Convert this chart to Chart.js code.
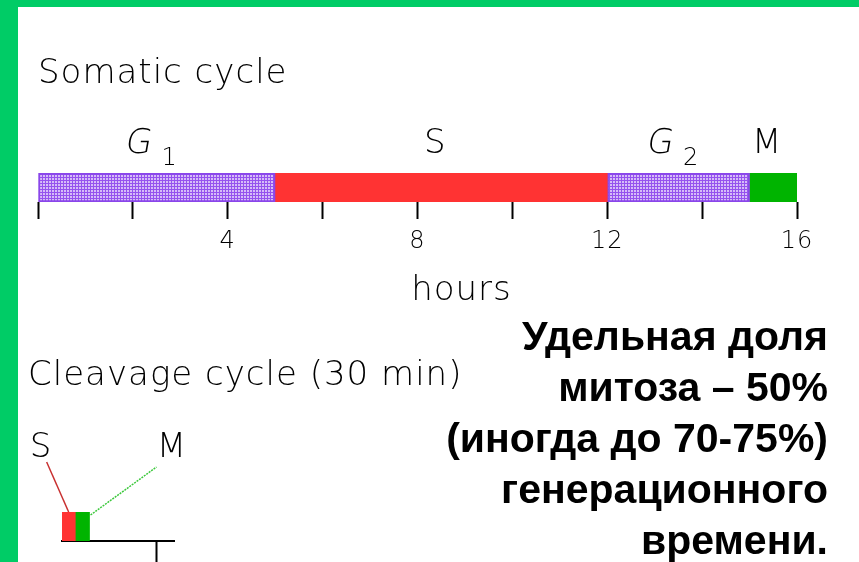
<!DOCTYPE html>
<html>
<head>
<meta charset="utf-8">
<script src="https://cdn.jsdelivr.net/npm/chart.js@4.4.1/dist/chart.umd.min.js"></script>
<style>
  html, body { margin: 0; padding: 0; background: #fff; }
  #page { position: relative; width: 859px; height: 562px; overflow: hidden; background: #fff; }
  #frameTop { position: absolute; left: 0; top: 0; width: 859px; height: 7px; background: #00cc66; }
  #frameLeft { position: absolute; left: 0; top: 0; width: 18px; height: 562px; background: #00cc66; }
  #somatic { position: absolute; left: 0; top: 0; }
  #cleavage { position: absolute; left: 0; top: 330px; }
  #cleavageTitle {
    position: absolute; left: 28px; top: 353px; white-space: nowrap;
    font: 200 34px "DejaVu Sans"; line-height: 40px; letter-spacing: 1px; color: #000;
  }
  #note {
    position: absolute; right: 31px; top: 311px; text-align: right; white-space: nowrap;
    font: bold 41px "Liberation Sans"; line-height: 51px; color: #000;
  }
</style>
</head>
<body>
<div id="page">
  <div id="frameTop"></div>
  <div id="frameLeft"></div>
  <canvas id="somatic" width="859" height="310"></canvas>
  <canvas id="cleavage" width="320" height="232"></canvas>
  <div id="cleavageTitle">Cleavage cycle (30 min)</div>
  <div id="note">Удельная доля<br>митоза – 50%<br>(иногда до 70-75%)<br>генерационного<br>времени.</div>
</div>
<script>
// ============================================================================
// Data
// ============================================================================

const SOMATIC_PHASES = ['G1', 'S', 'G2', 'M'];
const SOMATIC_HOURS = [5, 7, 3, 1];
const PHASE_MAIN = ['G', 'S', 'G', 'M'];
const PHASE_SUB = ['1', '', '2', ''];
const HOUR_LABELS = [4, 8, 12, 16];

const CLEAVAGE_PHASES = ['S', 'M'];
const CLEAVAGE_HOURS = [0.28, 0.3];
const CLEAVAGE_TICKS = [2];

// ============================================================================
// Styles
// ============================================================================

const FONT = '"DejaVu Sans"';
const INK = '#000';
const RED = '#ff3333';
const GREEN = '#00b400';
const PURPLE_EDGE = '#8a46ea';

/**
 * Lavender lattice used for the G1 / G2 segments
 */
function makeHatch() {
  const c = document.createElement('canvas');
  c.width = 3;
  c.height = 3;
  const g = c.getContext('2d');
  g.fillStyle = '#d6bcf8';
  g.fillRect(0, 0, 3, 3);
  g.fillStyle = '#9552ee';
  g.fillRect(0, 0, 3, 1);
  g.fillRect(0, 0, 1, 3);
  return g.createPattern(c, 'repeat');
}

const HATCH = makeHatch();
const PHASE_COLORS = [HATCH, RED, HATCH, GREEN];
const PHASE_BORDERS = [PURPLE_EDGE, RED, PURPLE_EDGE, GREEN];
const PHASE_BORDER_W = [2, 0, 2, 0];

// ============================================================================
// Plugins
// ============================================================================

// the old bitmap font is wide, so space the letters a little
const spacingPlugin = {
  id: 'spacing',
  beforeUpdate(chart) { chart.ctx.letterSpacing = '1px'; },
  beforeDraw(chart) { chart.ctx.letterSpacing = '1px'; }
};

/**
 * G1 / S / G2 / M labels above each segment
 */
const phaseLabels = {
  id: 'phaseLabels',
  afterDatasetsDraw(chart) {
    const ctx = chart.ctx;
    ctx.save();
    ctx.fillStyle = INK;
    ctx.textAlign = 'left';
    ctx.textBaseline = 'alphabetic';
    chart.data.datasets.forEach((ds, i) => {
      const bar = chart.getDatasetMeta(i).data[0];
      const cx = (bar.x + bar.base) / 2 - 6;
      const top = bar.y - bar.height / 2;
      const main = PHASE_MAIN[i];
      const sub = PHASE_SUB[i];
      const mainFont = '200 34px ' + FONT;
      const subFont = '200 24px ' + FONT;
      ctx.font = mainFont;
      const wMain = ctx.measureText(main).width;
      ctx.font = subFont;
      const wSub = sub ? ctx.measureText(sub).width + 10 : 0;
      const x = cx - (wMain + wSub) / 2;

      // G is slanted in the original
      ctx.save();
      ctx.font = mainFont;
      ctx.translate(x, top - 20);
      if (main === 'G') ctx.transform(1, 0, -0.18, 1, 0, 0);
      ctx.fillText(main, 0, 0);
      ctx.restore();

      if (sub) {
        ctx.font = subFont;
        ctx.fillText(sub, x + wMain + 10, top - 8);
      }
    });
    ctx.restore();
  }
};

/**
 * "hours" caption, set a little right of the axis centre as in the original
 */
const axisCaption = {
  id: 'axisCaption',
  afterDraw(chart) {
    const ctx = chart.ctx;
    const area = chart.chartArea;
    ctx.save();
    ctx.fillStyle = INK;
    ctx.font = '200 34px ' + FONT;
    ctx.textAlign = 'center';
    ctx.textBaseline = 'alphabetic';
    ctx.fillText('hours', (area.left + area.right) / 2 + 44, 300);
    ctx.restore();
  }
};

/**
 * Leader lines from the cleavage bar to its S / M labels
 */
const leaderPlugin = {
  id: 'leaders',
  afterDatasetsDraw(chart) {
    const ctx = chart.ctx;
    const red = chart.getDatasetMeta(0).data[0];
    const green = chart.getDatasetMeta(1).data[0];
    const top = red.y - red.height / 2;
    const redX = (red.x + red.base) / 2;

    ctx.save();
    ctx.lineWidth = 1.5;
    ctx.strokeStyle = '#c83030';
    ctx.beginPath();
    ctx.moveTo(redX, top);
    ctx.lineTo(redX - 22, top - 50);
    ctx.stroke();

    ctx.strokeStyle = '#3cc83c';
    ctx.setLineDash([2, 1]);
    ctx.beginPath();
    ctx.moveTo(green.x + 1, top + 3);
    ctx.lineTo(green.x + 67, top - 45);
    ctx.stroke();
    ctx.setLineDash([]);

    ctx.fillStyle = INK;
    ctx.font = '200 34px ' + FONT;
    ctx.textAlign = 'center';
    ctx.textBaseline = 'alphabetic';
    ctx.fillText(CLEAVAGE_PHASES[0], redX - 28, top - 55);
    ctx.fillText(CLEAVAGE_PHASES[1], green.x + 82, top - 55);
    ctx.restore();
  }
};

// ============================================================================
// Charts
// ============================================================================

new Chart(document.getElementById('somatic'), {
  type: 'bar',
  data: {
    labels: ['Somatic cycle'],
    datasets: SOMATIC_PHASES.map((name, i) => ({
      label: name,
      data: [SOMATIC_HOURS[i]],
      backgroundColor: PHASE_COLORS[i],
      borderColor: PHASE_BORDERS[i],
      borderWidth: PHASE_BORDER_W[i],
      borderSkipped: false,
      barPercentage: 1,
      categoryPercentage: 1
    }))
  },
  options: {
    indexAxis: 'y',
    responsive: false,
    animation: false,
    layout: { padding: { top: 50, left: 38, right: 62, bottom: 0 } },
    plugins: {
      legend: { display: false },
      tooltip: { enabled: false },
      title: {
        display: true,
        text: 'Somatic cycle',
        align: 'start',
        color: INK,
        font: { family: FONT, size: 34, weight: 200, lineHeight: 1 },
        padding: { top: 7, bottom: 82 }
      }
    },
    scales: {
      x: {
        stacked: true,
        min: 0,
        max: 16,
        afterFit(scale) { scale.height = 108; },
        border: { display: false },
        grid: {
          drawOnChartArea: false,
          drawTicks: true,
          tickLength: 17,
          tickWidth: 2,
          tickColor: INK
        },
        ticks: {
          stepSize: 2,
          autoSkip: false,
          maxRotation: 0,
          padding: 8,
          color: INK,
          font: { family: FONT, size: 24, weight: 200 },
          callback: v => HOUR_LABELS.includes(v) ? v : ''
        }
      },
      y: { stacked: true, display: false }
    }
  },
  plugins: [spacingPlugin, phaseLabels, axisCaption]
});

new Chart(document.getElementById('cleavage'), {
  type: 'bar',
  data: {
    labels: ['Cleavage cycle'],
    datasets: CLEAVAGE_PHASES.map((name, i) => ({
      label: name,
      data: [CLEAVAGE_HOURS[i]],
      backgroundColor: [RED, GREEN][i],
      borderWidth: 0,
      barPercentage: 1,
      categoryPercentage: 1
    }))
  },
  options: {
    indexAxis: 'y',
    responsive: false,
    animation: false,
    layout: { padding: { top: 182, left: 62, right: 146, bottom: 0 } },
    plugins: {
      legend: { display: false },
      tooltip: { enabled: false }
    },
    scales: {
      x: {
        stacked: true,
        min: 0,
        max: 2.36,
        afterBuildTicks(scale) { scale.ticks = CLEAVAGE_TICKS.map(v => ({ value: v })); },
        afterFit(scale) { scale.height = 21; },
        border: { display: true, color: INK, width: 2 },
        grid: {
          drawOnChartArea: false,
          drawTicks: true,
          tickLength: 25,
          tickWidth: 2,
          tickColor: INK
        },
        ticks: { display: false }
      },
      y: { stacked: true, display: false }
    }
  },
  plugins: [leaderPlugin]
});
</script>
</body>
</html>
